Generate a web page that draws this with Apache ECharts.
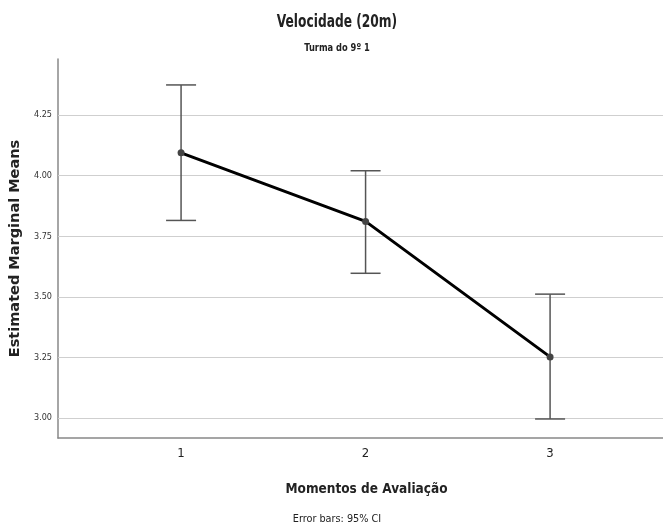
<!DOCTYPE html>
<html>
<head>
<meta charset="utf-8">
<script src="https://cdn.jsdelivr.net/npm/echarts@6/dist/echarts.min.js"></script>
<style>
  html, body { margin: 0; padding: 0; background: #fff; }
  #chart { width: 663px; height: 527px; }
</style>
</head>
<body>
<div id="chart"></div>
<script>
// momentos de avaliação e médias marginais estimadas (IC 95%)
var moments = [1, 2, 3];
var means = [4.094, 3.811, 3.252];
var lower = [3.815, 3.597, 2.996];
var upper = [4.374, 4.020, 3.511];
var yTicks = [3.00, 3.25, 3.50, 3.75, 4.00, 4.25];

var condensed = '"DejaVu Sans Condensed", "DejaVu Sans", sans-serif';

var chart = echarts.init(document.getElementById('chart'), null, { renderer: 'canvas' });

var lineData = moments.map(function (m, i) { return [m, means[i]]; });
var errData = moments.map(function (m, i) { return [m, lower[i], upper[i]]; });

// textos centrados como no original (a figura foi cortada à direita)
function centerText(txt, y, size, weight, sx) {
    return {
        type: 'text',
        x: 337,
        y: y,
        scaleX: sx,
        style: {
            text: txt,
            align: 'center',
            verticalAlign: 'middle',
            font: weight + ' ' + size + 'px ' + condensed,
            fill: '#222'
        }
    };
}

var option = {
    animation: false,
    backgroundColor: '#fff',
    graphic: [
        centerText('Velocidade (20m)', 23, 17, 'bold', 0.8),
        centerText('Turma do 9º 1', 48, 11, 'bold', 0.84),
        centerText('Error bars: 95% CI', 519, 11, 'normal', 0.98)
    ],
    grid: { left: 58, right: 0, top: 59, bottom: 89 },
    xAxis: {
        type: 'value',
        min: 0.333,
        max: 3.612,
        name: 'Momentos de Avaliação',
        nameLocation: 'middle',
        nameGap: 44,
        nameTextStyle: { fontFamily: condensed, fontSize: 13.5, fontWeight: 'bold', color: '#222', padding: [0, 0, 0, 12] },
        axisLine: { show: true, lineStyle: { color: '#888', width: 1.5 } },
        axisTick: { show: false },
        splitLine: { show: false },
        axisLabel: {
            customValues: moments,
            margin: 9,
            fontFamily: condensed,
            fontSize: 13,
            color: '#222'
        }
    },
    yAxis: {
        type: 'value',
        min: 2.9175,
        max: 4.481,
        name: 'Estimated Marginal Means',
        nameLocation: 'middle',
        nameGap: 33,
        nameTextStyle: { fontFamily: '"DejaVu Sans", sans-serif', fontSize: 14.5, fontWeight: 'bold', color: '#222' },
        axisLine: { show: true, lineStyle: { color: '#888', width: 1.5 } },
        axisTick: { show: false },
        splitLine: { show: false },
        axisLabel: {
            customValues: yTicks,
            margin: 6,
            fontFamily: condensed,
            fontSize: 9,
            color: '#333',
            formatter: function (v) { return v.toFixed(2); }
        }
    },
    series: [
        {
            type: 'line',
            data: lineData,
            z: 3,
            lineStyle: { color: '#000', width: 3 },
            symbol: 'circle',
            symbolSize: 7,
            itemStyle: { color: '#444' },
            markLine: {
                silent: true,
                symbol: 'none',
                z: 1,
                label: { show: false },
                lineStyle: { color: '#cfcfcf', width: 1.2, type: 'solid' },
                data: yTicks.map(function (t) { return { yAxis: t }; })
            }
        },
        {
            type: 'custom',
            z: 2,
            data: errData,
            renderItem: function (params, api) {
                var x = api.value(0);
                var lo = api.coord([x, api.value(1)]);
                var hi = api.coord([x, api.value(2)]);
                var half = 15;
                var style = { stroke: '#555', lineWidth: 1.5 };
                return {
                    type: 'group',
                    children: [
                        { type: 'line', shape: { x1: hi[0], y1: hi[1], x2: lo[0], y2: lo[1] }, style: style },
                        { type: 'line', shape: { x1: hi[0] - half, y1: hi[1], x2: hi[0] + half, y2: hi[1] }, style: style },
                        { type: 'line', shape: { x1: lo[0] - half, y1: lo[1], x2: lo[0] + half, y2: lo[1] }, style: style }
                    ]
                };
            }
        }
    ]
};

chart.setOption(option);
</script>
</body>
</html>
